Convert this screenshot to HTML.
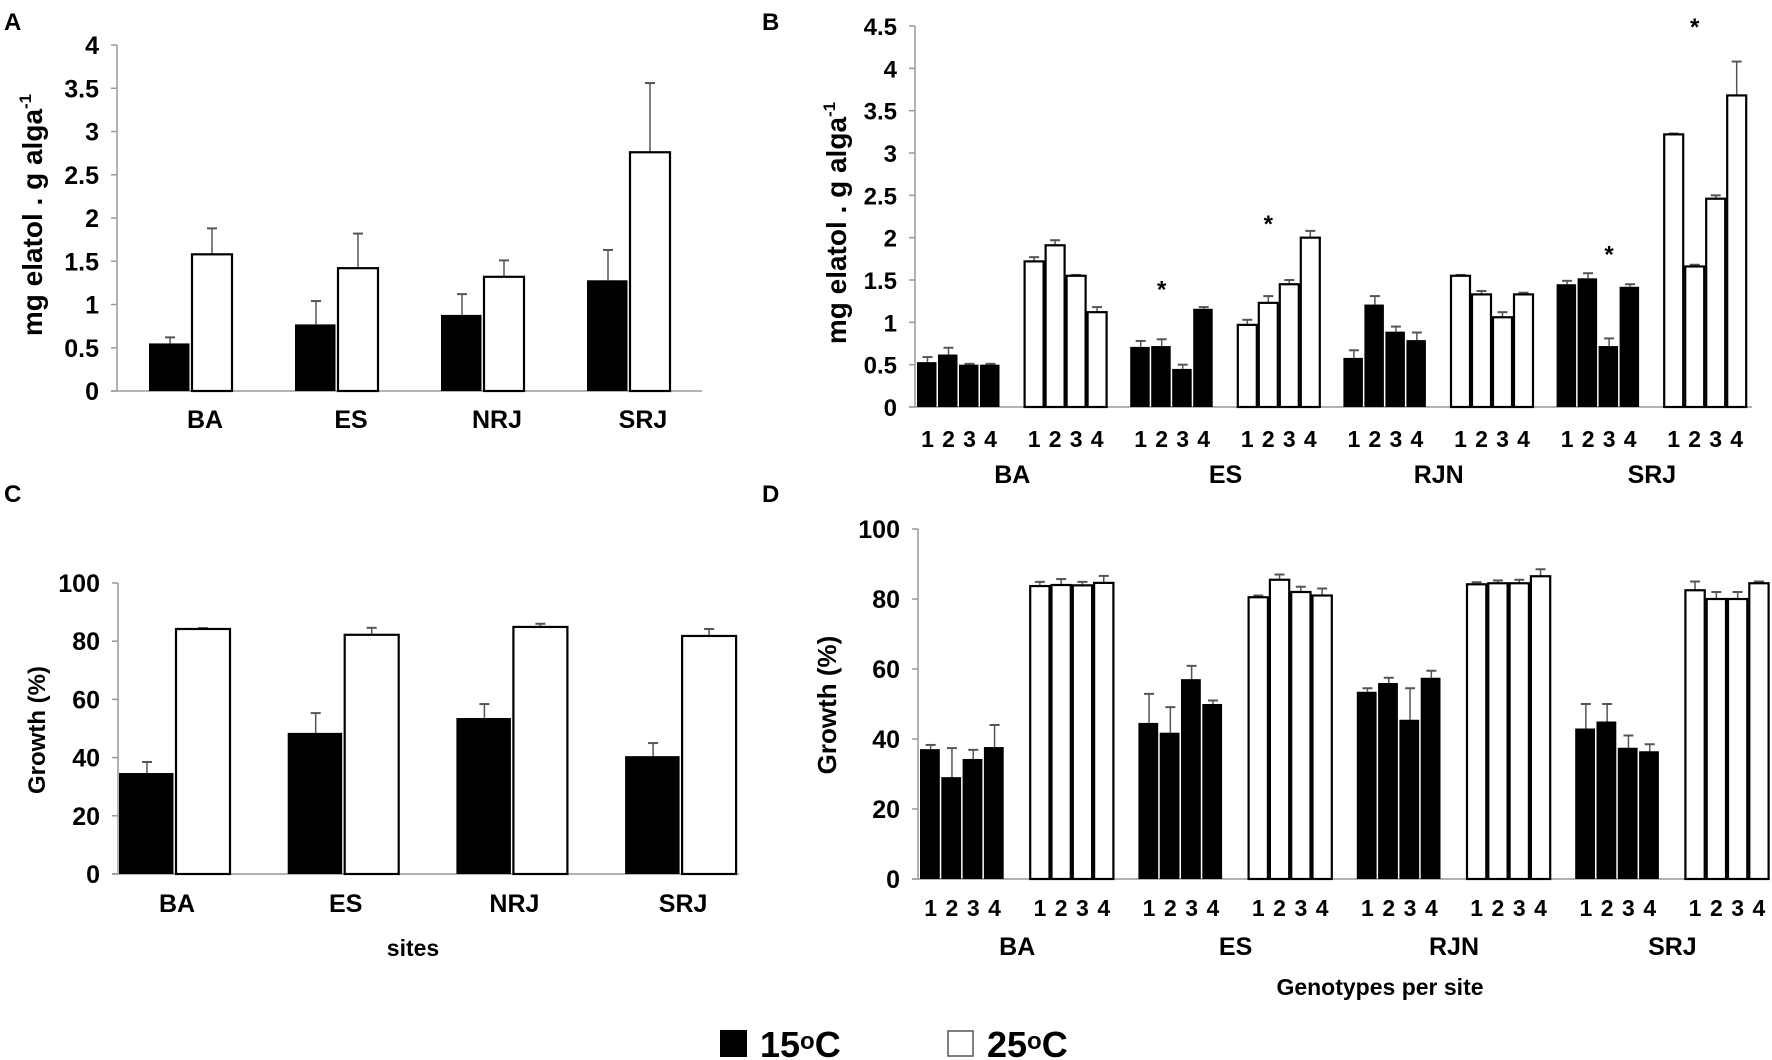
<!DOCTYPE html>
<html><head><meta charset="utf-8"><style>
html,body{margin:0;padding:0;background:#fff;}
svg{display:block;font-family:"Liberation Sans",Arial,sans-serif;font-weight:bold;}
</style></head><body>
<svg id="fig" width="1772" height="1060" viewBox="0 0 1772 1060" xmlns="http://www.w3.org/2000/svg">
<text x="4" y="30" font-size="24">A</text>
<text x="762" y="30" font-size="24">B</text>
<text x="4" y="502" font-size="24">C</text>
<text x="762" y="502" font-size="24">D</text>
<text transform="translate(42,215) rotate(-90)" text-anchor="middle" font-size="28">mg  elatol . g alga<tspan dy="-11" font-size="17">-1</tspan></text>
<text transform="translate(846,223) rotate(-90)" text-anchor="middle" font-size="28">mg  elatol . g alga<tspan dy="-11" font-size="17">-1</tspan></text>
<text transform="translate(45,730) rotate(-90)" text-anchor="middle" font-size="24">Growth (%)</text>
<text transform="translate(836,705) rotate(-90)" text-anchor="middle" font-size="26">Growth  (%)</text>
<text x="413" y="956" text-anchor="middle" font-size="23">sites</text>
<text x="1380" y="995" text-anchor="middle" font-size="23">Genotypes per site</text>
<g>
<rect x="720" y="1030" width="27" height="27" fill="#000"/>
<text x="760" y="1057" font-size="36">15<tspan font-size="24" dy="-8">o</tspan><tspan dy="8">C</tspan></text>
<rect x="948" y="1031" width="25" height="25" fill="#fff" stroke="#555" stroke-width="1.5"/>
<text x="987" y="1057" font-size="36">25<tspan font-size="24" dy="-8">o</tspan><tspan dy="8">C</tspan></text>
</g>
</svg>
<script>
// Panel A: elatol per site
const sitesA = ["BA","ES","NRJ","SRJ"];
const aCold = [0.55,0.77,0.88,1.28];
const aColdErr = [0.62,1.04,1.12,1.63];
const aWarm = [1.58,1.42,1.32,2.76];
const aWarmErr = [1.88,1.82,1.51,3.56];
const aTicks = ["0","0.5","1","1.5","2","2.5","3","3.5","4"];
// Panel C: growth per site
const sitesC = ["BA","ES","NRJ","SRJ"];
const cCold = [34.7,48.5,53.6,40.5];
const cColdErr = [38.5,55.3,58.4,45];
const cWarm = [84.2,82.2,84.9,81.8];
const cWarmErr = [84.5,84.6,86,84.2];
const cTicks = ["0","20","40","60","80","100"];
// Panel B: elatol per genotype
const sitesB = ["BA","ES","RJN","SRJ"];
const genotypes = ["1","2","3","4"];
const bCold = [[0.53,0.62,0.50,0.50],[0.71,0.72,0.45,1.16],[0.58,1.21,0.89,0.79],[1.45,1.52,0.72,1.42]];
const bColdErr = [[0.59,0.70,0.51,0.51],[0.78,0.80,0.50,1.18],[0.67,1.31,0.95,0.88],[1.49,1.58,0.81,1.45]];
const bWarm = [[1.72,1.91,1.55,1.12],[0.97,1.23,1.45,2.00],[1.55,1.33,1.06,1.33],[3.22,1.66,2.46,3.68]];
const bWarmErr = [[1.77,1.97,1.56,1.18],[1.03,1.31,1.50,2.08],[1.56,1.37,1.12,1.35],[3.23,1.68,2.50,4.08]];
const bTicks = ["0","0.5","1","1.5","2","2.5","3","3.5","4","4.5"];
// asterisks: [site index, series (0 cold,1 warm), genotype index, value]
const bStars = [[1,0,1,1.46],[1,1,1,2.23],[3,0,2,1.87],[3,1,1,4.56]];
// Panel D: growth per genotype
const dCold = [[37.1,29.1,34.3,37.7],[44.6,41.8,57.1,50],[53.5,56,45.5,57.5],[43,45,37.5,36.5]];
const dColdErr = [[38.3,37.4,36.9,44],[52.9,49.1,60.9,51],[54.5,57.5,54.5,59.5],[50,50,41,38.5]];
const dWarm = [[83.7,84.0,83.9,84.6],[80.5,85.5,82,81],[84.2,84.5,84.5,86.5],[82.5,80,80,84.5]];
const dWarmErr = [[84.9,85.7,84.9,86.6],[81,87,83.5,83],[84.8,85.3,85.5,88.5],[85,82,82,85]];
const dTicks = ["0","20","40","60","80","100"];

const NS = "http://www.w3.org/2000/svg";
const svg = document.getElementById("fig");
function mk(tag, attrs, parent){
  const e = document.createElementNS(NS, tag);
  for (const k in attrs) e.setAttribute(k, attrs[k]);
  (parent||svg).appendChild(e);
  return e;
}
function axes(g, ax){
  const yAxis = mk("line",{x1:ax.x0,y1:ax.y(ax.max),x2:ax.x0,y2:ax.y(0),stroke:"#999","stroke-width":1.5},g);
  
  
  const xAxis = mk("line",{x1:ax.x0-6,y1:ax.y(0),x2:ax.x1,y2:ax.y(0),stroke:"#999","stroke-width":1.5},g);
  
  
  ax.ticks.forEach(function(t){
    const v = parseFloat(t), yy = ax.y(v);
    const tk = mk("line",{x1:ax.x0-6,y1:yy,x2:ax.x0,y2:yy,stroke:"#999","stroke-width":1.5},g);
    
    
    const tl = mk("text",{x:ax.x0-18,y:yy+9,"text-anchor":"end","font-size":ax.fs},g);
    tl.textContent = t;
    
    
  });
}
function bar(g, x, w, v, err, cold, ax, name){
  const y0 = ax.y(0), yv = ax.y(v), ye = ax.y(err), cx = x + w/2;
  const eb = mk("line",{x1:cx,y1:yv,x2:cx,y2:ye,stroke:"#555","stroke-width":1.5},g);
  
  
  const cap = mk("line",{x1:cx-5,y1:ye,x2:cx+5,y2:ye,stroke:"#555","stroke-width":2},g);
  
  
  const r = cold ? mk("rect",{x:x,y:yv,width:w-1.5,height:y0-yv,fill:"#000"},g)
                 : mk("rect",{x:x+1,y:yv,width:w-2,height:y0-yv,fill:"#fff",stroke:"#000","stroke-width":2.2},g);
  
  
}
function label(g, x, y, txt, size, name){
  const t = mk("text",{x:x,y:y,"text-anchor":"middle","font-size":size},g);
  t.textContent = txt;
  
  
}
function simplePanel(id, sites, cold, coldE, warm, warmE, ticks, cfg){
  const g = mk("g",{});
  
  
  const max = parseFloat(ticks[ticks.length-1]);
  const ax = {id:id, x0:cfg.x0, x1:cfg.x1, max:max, ticks:ticks, fs:cfg.fs,
    y: function(v){ return cfg.yb - v*(cfg.yb-cfg.yt)/max; }};
  axes(g, ax);
  sites.forEach(function(s,i){
    const x = cfg.gx + i*cfg.sp;
    bar(g, x, cfg.bw, cold[i], coldE[i], true, ax, id+'-bar-'+s.toLowerCase()+'-15c');
    bar(g, x+cfg.bw, cfg.bw, warm[i], warmE[i], false, ax, id+'-bar-'+s.toLowerCase()+'-25c');
    label(g, x+cfg.bw+cfg.lo, cfg.ly, s, 25, id+'-x-label-'+s.toLowerCase());
  });
}
function genoPanel(id, sites, cold, coldE, warm, warmE, ticks, cfg, stars){
  const g = mk("g",{});
  
  
  const max = parseFloat(ticks[ticks.length-1]);
  const ax = {id:id, x0:cfg.x0, x1:cfg.x1, max:max, ticks:ticks, fs:cfg.fs,
    y: function(v){ return cfg.yb - v*(cfg.yb-cfg.yt)/max; }};
  axes(g, ax);
  const series = [cold, warm], errs = [coldE, warmE];
  sites.forEach(function(s,i){
    for (let k=0;k<2;k++){
      const gx = cfg.gx + (2*i+k)*cfg.sp;
      genotypes.forEach(function(gn,j){
        const x = gx + j*cfg.bw;
        bar(g, x, cfg.bw, series[k][i][j], errs[k][i][j], k===0, ax, id+'-bar-'+s.toLowerCase()+'-'+(k===0?'15c':'25c')+'-g'+gn);
        label(g, x+cfg.bw/2, cfg.gly, gn, 23, id+'-genotype-label');
      });
    }
    label(g, cfg.gx + (2*i+1)*cfg.sp - (cfg.sp-4*cfg.bw)/2, cfg.ly, s, 25, id+'-site-label-'+s.toLowerCase());
  });
  (stars||[]).forEach(function(st){
    const x = cfg.gx + (2*st[0]+st[1])*cfg.sp + st[2]*cfg.bw + cfg.bw/2;
    label(g, x, ax.y(st[3])+14, "*", 24, id+'-significance-asterisk');
  });
}
simplePanel("panel-a", sitesA, aCold, aColdErr, aWarm, aWarmErr, aTicks,
  {x0:117, x1:702, yb:391, yt:45, gx:149, sp:146, bw:42, lo:14, ly:428, fs:25});
simplePanel("panel-c", sitesC, cCold, cColdErr, cWarm, cWarmErr, cTicks,
  {x0:118, x1:739, yb:874, yt:583, gx:119, sp:168.7, bw:56, lo:2, ly:912, fs:25});
genoPanel("panel-b", sitesB, bCold, bColdErr, bWarm, bWarmErr, bTicks,
  {x0:915, x1:1752, yb:407, yt:26, gx:917, sp:106.6, bw:21, gly:447, ly:483, fs:24}, bStars);
genoPanel("panel-d", sitesB, dCold, dColdErr, dWarm, dWarmErr, dTicks,
  {x0:918, x1:1770, yb:879, yt:529, gx:920, sp:109.2, bw:21.3, gly:916, ly:955, fs:25}, []);
</script>
</body></html>
